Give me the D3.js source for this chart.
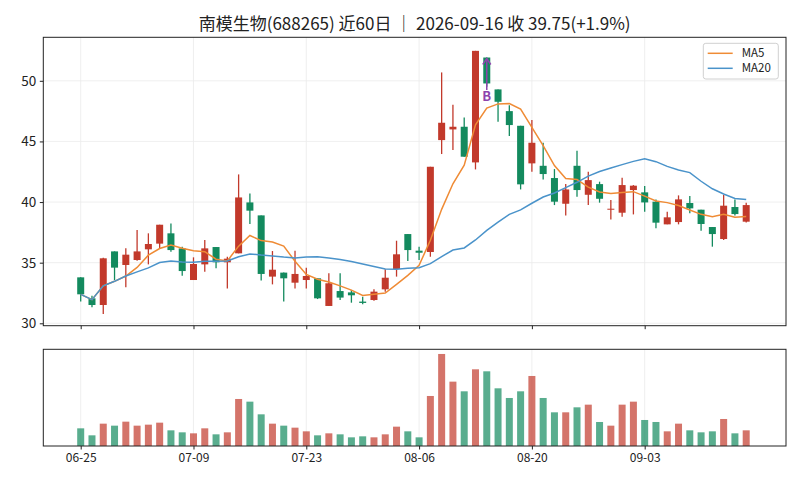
<!DOCTYPE html>
<html>
<head>
<meta charset="utf-8">
<script src="https://cdn.jsdelivr.net/npm/d3@7"></script>
<style>
  body { margin: 0; background: #fff; }
  svg { font-family: "Noto Sans CJK SC", "DejaVu Sans", sans-serif; }
</style>
</head>
<body>
<svg id="chart" width="800" height="484"></svg>
<script>
// trading days shown (MM-DD), 2026
const dates = [
  "06-25", "06-26", "06-29", "06-30", "07-01", "07-02", "07-03", "07-06", "07-07", "07-08",
  "07-09", "07-10", "07-13", "07-14", "07-15", "07-16", "07-17", "07-20", "07-21", "07-22",
  "07-23", "07-24", "07-27", "07-28", "07-29", "07-30", "07-31", "08-03", "08-04", "08-05",
  "08-06", "08-07", "08-10", "08-11", "08-12", "08-13", "08-14", "08-17", "08-18", "08-19",
  "08-20", "08-21", "08-24", "08-25", "08-26", "08-27", "08-28", "08-31", "09-01", "09-02",
  "09-03", "09-04", "09-07", "09-08", "09-09", "09-10", "09-11", "09-14", "09-15", "09-16"
];
const opens = [
  33.79, 32.06, 31.51, 35.93, 34.81, 35.22, 36.10, 36.57, 37.42, 36.18,
  33.57, 34.86, 36.29, 35.03, 35.77, 39.97, 38.90, 33.85, 34.18, 33.35,
  33.57, 33.71, 31.43, 32.66, 32.55, 31.79, 31.92, 32.80, 34.48, 37.36,
  35.99, 35.88, 45.11, 45.99, 46.21, 43.27, 51.92, 49.29, 47.50, 46.29,
  43.19, 42.99, 41.98, 39.86, 42.99, 40.60, 41.48, 39.42, 39.12, 40.99,
  40.80, 40.03, 38.16, 38.35, 39.92, 39.37, 37.94, 36.95, 39.59, 38.38
];
const highs = [
  33.80, 32.28, 35.40, 35.93, 36.18, 37.69, 37.42, 38.13, 38.24, 36.32,
  35.44, 36.87, 36.29, 35.49, 42.28, 40.71, 38.90, 35.96, 34.18, 35.99,
  34.59, 33.71, 34.12, 34.12, 32.75, 32.20, 32.80, 34.45, 36.81, 37.36,
  36.32, 42.91, 50.69, 48.02, 46.98, 52.47, 51.92, 49.29, 47.99, 46.29,
  46.76, 44.89, 42.72, 41.48, 44.23, 42.50, 41.68, 40.16, 42.00, 41.40,
  41.32, 40.22, 39.20, 40.55, 40.49, 39.37, 37.94, 40.58, 40.22, 39.95
];
const lows = [
  31.79, 31.32, 30.77, 33.57, 32.97, 35.15, 34.86, 36.20, 35.90, 33.93,
  33.57, 34.26, 34.53, 32.88, 35.77, 38.19, 33.52, 33.21, 31.79, 32.88,
  32.88, 32.00, 31.43, 31.92, 31.70, 31.57, 31.87, 32.61, 33.85, 35.14,
  35.22, 35.49, 43.96, 44.29, 43.74, 42.69, 49.50, 46.62, 45.44, 41.04,
  42.50, 41.87, 39.75, 38.90, 40.44, 39.75, 39.95, 38.57, 38.79, 38.98,
  39.20, 37.83, 38.16, 38.16, 39.07, 37.64, 36.32, 36.87, 38.90, 38.32
];
const closes = [
  32.39, 31.51, 35.36, 34.59, 35.66, 35.93, 36.54, 38.13, 36.04, 34.31,
  34.89, 36.18, 35.03, 35.33, 40.38, 39.29, 34.07, 34.42, 33.71, 34.07,
  33.90, 32.06, 33.30, 32.12, 32.31, 31.68, 32.61, 33.76, 35.69, 36.04,
  35.82, 42.91, 46.54, 46.21, 43.74, 52.47, 49.78, 48.27, 46.35, 41.46,
  44.89, 42.31, 40.03, 41.04, 40.99, 41.81, 40.27, 39.45, 41.40, 41.35,
  39.97, 38.30, 38.74, 40.22, 39.48, 38.19, 37.36, 39.70, 39.01, 39.75
];
// volume, 万股
const volumes = [
  53, 32, 67, 61, 73, 61, 64, 70, 47, 41,
  38, 53, 35, 41, 141, 133, 95, 67, 61, 55,
  44, 32, 38, 35, 26, 29, 26, 35, 58, 44,
  26, 150, 276, 193, 164, 230, 224, 173, 144, 164,
  210, 144, 101, 101, 116, 124, 72, 61, 124, 133,
  78, 72, 44, 67, 47, 41, 44, 81, 38, 47
];
const yTicks = [30, 35, 40, 45, 50];
const xTickIdx = [0, 10, 20, 30, 40, 50];
const buySignals = [36];
const title = "南模生物(688265) 近60日 ｜ 2026-09-16 收 39.75(+1.9%)";

const UP = "#c2392b", DOWN = "#138a5e";
const MA5_COLOR = "#ef8b35", MA20_COLOR = "#4a93ca";

const svg = d3.select("#chart");
const L = 43.3, R = 786;
const top1 = 37.3, bot1 = 325.7, top2 = 349.3, bot2 = 446;

const x = d3.scaleLinear().domain([0, 59]).range([80.7, 746.2]);
const y = d3.scaleLinear().domain([30, 50]).range([323.3, 80.8]);
const yv = d3.scaleLinear().domain([0, 290]).range([bot2, top2]);
const bw = 7;

// rolling mean, shorter window at the start (min periods 1)
const rolling = n => closes.map((c, i) => d3.mean(closes.slice(Math.max(0, i - n + 1), i + 1)));
const ma5 = rolling(5), ma20 = rolling(20);
const idx = d3.range(closes.length);
const isUp = i => closes[i] >= opens[i];

// grid
const grid = svg.append("g").attr("stroke", "#ebebeb").attr("stroke-width", 0.8);
xTickIdx.forEach(i => {
  grid.append("line").attr("x1", x(i)).attr("x2", x(i)).attr("y1", top1).attr("y2", bot1);
  grid.append("line").attr("x1", x(i)).attr("x2", x(i)).attr("y1", top2).attr("y2", bot2);
});
yTicks.forEach(v => {
  grid.append("line").attr("x1", L).attr("x2", R).attr("y1", y(v)).attr("y2", y(v));
});

// candles
const candles = svg.append("g");
candles.selectAll("line.wick")
  .data(idx).enter().append("line")
  .attr("class", "wick")
  .attr("x1", i => x(i)).attr("x2", i => x(i))
  .attr("y1", i => y(highs[i])).attr("y2", i => y(lows[i]))
  .attr("stroke", i => isUp(i) ? UP : DOWN)
  .attr("stroke-width", 1.3);
candles.selectAll("rect.body")
  .data(idx).enter().append("rect")
  .attr("class", "body")
  .attr("x", i => x(i) - bw / 2)
  .attr("width", bw)
  .attr("y", i => y(Math.max(opens[i], closes[i])))
  .attr("height", i => Math.max(1, Math.abs(y(opens[i]) - y(closes[i]))))
  .attr("fill", i => isUp(i) ? UP : DOWN);

// moving averages
const line = arr => d3.line().x((d, i) => x(i)).y(d => y(d))(arr);
svg.append("path").attr("d", line(ma5)).attr("fill", "none")
  .attr("stroke", MA5_COLOR).attr("stroke-width", 1.5);
svg.append("path").attr("d", line(ma20)).attr("fill", "none")
  .attr("stroke", MA20_COLOR).attr("stroke-width", 1.5);

// buy marker
const purple = "#8e44ad";
buySignals.forEach(i => {
  const tipY = y(highs[i]) + 1, textY = 101;
  svg.append("line").attr("x1", x(i)).attr("x2", x(i))
    .attr("y1", textY - 11).attr("y2", tipY)
    .attr("stroke", purple).attr("stroke-width", 1.5);
  svg.append("path")
    .attr("d", `M${x(i) - 4},${tipY + 6} L${x(i)},${tipY} L${x(i) + 4},${tipY + 6}`)
    .attr("fill", "none").attr("stroke", purple).attr("stroke-width", 1.5);
  svg.append("text").attr("x", x(i)).attr("y", textY)
    .attr("text-anchor", "middle").attr("font-size", 13).attr("font-weight", "bold")
    .attr("fill", purple).text("B");
});

// volume
svg.append("g").selectAll("rect")
  .data(idx).enter().append("rect")
  .attr("x", i => x(i) - bw / 2)
  .attr("width", bw)
  .attr("y", i => yv(volumes[i]))
  .attr("height", i => bot2 - yv(volumes[i]))
  .attr("fill", i => isUp(i) ? UP : DOWN)
  .attr("fill-opacity", 0.7);

// frames
[[top1, bot1], [top2, bot2]].forEach(([t, b]) => {
  svg.append("rect").attr("x", L).attr("y", t).attr("width", R - L).attr("height", b - t)
    .attr("fill", "none").attr("stroke", "#222").attr("stroke-width", 1);
});

// axes
const yAxis = svg.append("g").attr("transform", `translate(${L},0)`)
  .call(d3.axisLeft(y).tickValues(yTicks).tickSize(3.5).tickPadding(3.5));
const xAxisTop = svg.append("g").attr("transform", `translate(0,${bot1})`)
  .call(d3.axisBottom(x).tickValues(xTickIdx).tickSize(3.5).tickFormat(""));
const xAxis = svg.append("g").attr("transform", `translate(0,${bot2})`)
  .call(d3.axisBottom(x).tickValues(xTickIdx).tickSize(3.5).tickPadding(4)
    .tickFormat(i => dates[i]));
[yAxis, xAxisTop, xAxis].forEach(g => {
  g.select(".domain").remove();
  g.selectAll("line").attr("stroke", "#222");
  g.selectAll("text").attr("fill", "#222").attr("font-family", "Noto Sans CJK SC");
});
yAxis.selectAll("text").attr("font-size", 13.5);
xAxis.selectAll("text").attr("font-size", 12);

// legend
const lg = svg.append("g").attr("transform", "translate(703.3,43.3)");
lg.append("rect").attr("width", 75).attr("height", 35.7).attr("rx", 2.5)
  .attr("fill", "#fff").attr("fill-opacity", 0.8).attr("stroke", "#d0d0d0");
[["MA5", MA5_COLOR], ["MA20", MA20_COLOR]].forEach(([name, c], k) => {
  const yy = 10 + k * 15;
  lg.append("line").attr("x1", 4.4).attr("x2", 29.4).attr("y1", yy).attr("y2", yy)
    .attr("stroke", c).attr("stroke-width", 1.5);
  lg.append("text").attr("x", 38.4).attr("y", yy + 4).attr("font-size", 11.5)
    .attr("fill", "#222").text(name);
});

// title
svg.append("text").attr("x", (L + R) / 2).attr("y", 30)
  .attr("text-anchor", "middle").attr("font-size", 17).attr("fill", "#222")
  .text(title);
</script>
</body>
</html>
